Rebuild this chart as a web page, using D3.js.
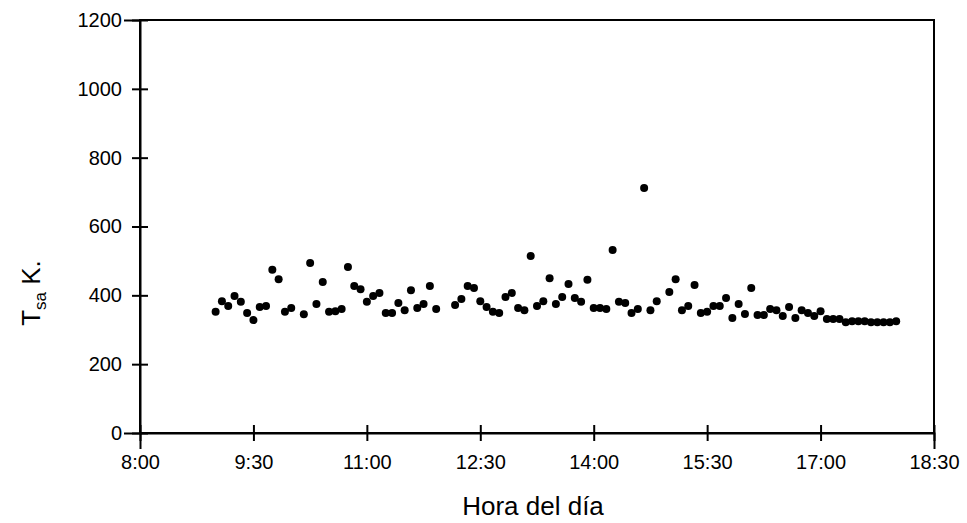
<!DOCTYPE html>
<html>
<head>
<meta charset="utf-8">
<script src="https://cdn.jsdelivr.net/npm/d3@7"></script>
<style>
  body { margin: 0; background: #fff; }
  svg { display: block; font-family: "Liberation Sans", Arial, sans-serif; }
</style>
</head>
<body>
<svg id="chart" width="967" height="523"></svg>
<script>
// ===== Data =====
const horas = [
  "9:00","9:05","9:10","9:15","9:20","9:25","9:30","9:35","9:40","9:45","9:50","9:55",
  "10:00","10:10","10:15","10:20","10:25","10:30","10:35","10:40","10:45","10:50","10:55",
  "11:00","11:05","11:10","11:15","11:20","11:25","11:30","11:35","11:40","11:45","11:50","11:55",
  "12:10","12:15","12:20","12:25","12:30","12:35","12:40","12:45","12:50","12:55",
  "13:00","13:05","13:10","13:15","13:20","13:25","13:30","13:35","13:40","13:45","13:50","13:55",
  "14:00","14:05","14:10","14:15","14:20","14:25","14:30","14:35","14:40","14:45","14:50",
  "15:00","15:05","15:10","15:15","15:20","15:25","15:30","15:35","15:40","15:45","15:50","15:55",
  "16:00","16:05","16:10","16:15","16:20","16:25","16:30","16:35","16:40","16:45","16:50","16:55",
  "17:00","17:05","17:10","17:15","17:20","17:25","17:30","17:35","17:40","17:45","17:50","17:55",
  "18:00"
];
const tsa = [
  352, 383, 369, 398, 381, 349, 328, 366, 369, 474, 447, 352,
  363, 345, 494, 375, 439, 352, 354, 360, 482, 427, 418,
  381, 398, 407, 349, 349, 378, 357, 415, 363, 375, 427, 360,
  372, 389, 427, 421, 383, 366, 352, 349, 395, 407,
  363, 357, 514, 369, 383, 450, 375, 395, 433, 392, 381, 445,
  363, 363, 360, 532, 381, 378, 349, 360, 712, 357, 383,
  410, 447, 357, 369, 430, 349, 352, 369, 369, 392, 334, 375,
  346, 421, 343, 343, 360, 357, 340, 366, 334, 357, 349, 340,
  354, 331, 331, 331, 322, 325, 325, 325, 322, 322, 322, 322,
  325
];
const xTickLabels = ["8:00", "9:30", "11:00", "12:30", "14:00", "15:30", "17:00", "18:30"];
const yTicks = [0, 200, 400, 600, 800, 1000, 1200];

function toMin(h) {
  const [hh, mm] = h.split(":").map(Number);
  return hh * 60 + mm;
}
const puntos = horas.map((h, i) => ({ t: toMin(h), v: tsa[i] }));

// ===== Layout =====
const svg = d3.select("#chart");
const margin = { top: 20, right: 33, bottom: 90, left: 140 };
const width = +svg.attr("width") - margin.left - margin.right;
const height = +svg.attr("height") - margin.top - margin.bottom;
const g = svg.append("g").attr("transform", `translate(${margin.left},${margin.top})`);

const x = d3.scaleLinear().domain([toMin("8:00"), toMin("18:30")]).range([0, width]);
const y = d3.scaleLinear().domain([0, 1200]).range([height, 0]);

// frame
g.append("rect")
  .attr("width", width)
  .attr("height", height)
  .attr("fill", "none")
  .attr("stroke", "#000")
  .attr("stroke-width", 2);

// ===== Axes (ticks cross the axis line) =====
const xAxisG = g.append("g")
  .attr("transform", `translate(0,${height})`)
  .call(d3.axisBottom(x)
    .tickValues(xTickLabels.map(toMin))
    .tickFormat((d, i) => xTickLabels[i])
    .tickSize(16));
xAxisG.selectAll(".tick line").attr("y1", -8).attr("y2", 8);
xAxisG.selectAll(".tick text").attr("y", 22).attr("dy", "0.71em");

const yAxisG = g.append("g")
  .call(d3.axisLeft(y).tickValues(yTicks).tickFormat(d3.format("d")).tickSize(16));
yAxisG.selectAll(".tick line").attr("x1", 8).attr("x2", -8);
yAxisG.selectAll(".tick text").attr("x", -18);

[xAxisG, yAxisG].forEach(a => {
  a.select(".domain").attr("stroke-width", 2);
  a.selectAll(".tick line").attr("stroke-width", 2);
  a.selectAll(".tick text")
    .attr("fill", "#000")
    .style("font-size", "20px");
});

// axis labels
svg.append("text")
  .attr("x", 533)
  .attr("y", 515)
  .attr("text-anchor", "middle")
  .style("font-size", "26px")
  .text("Hora del día");

const yLab = svg.append("text")
  .attr("transform", "translate(40,293) rotate(-90)")
  .attr("text-anchor", "middle")
  .style("font-size", "26px");
yLab.append("tspan").text("T");
yLab.append("tspan").attr("dy", 6).style("font-size", "17px").text("sa");
yLab.append("tspan").attr("dy", -6).text(" K.");

// ===== Points =====
g.selectAll("circle.pt")
  .data(puntos)
  .join("circle")
  .attr("class", "pt")
  .attr("cx", d => x(d.t))
  .attr("cy", d => y(d.v))
  .attr("r", 4)
  .attr("fill", "#000");
</script>
</body>
</html>
